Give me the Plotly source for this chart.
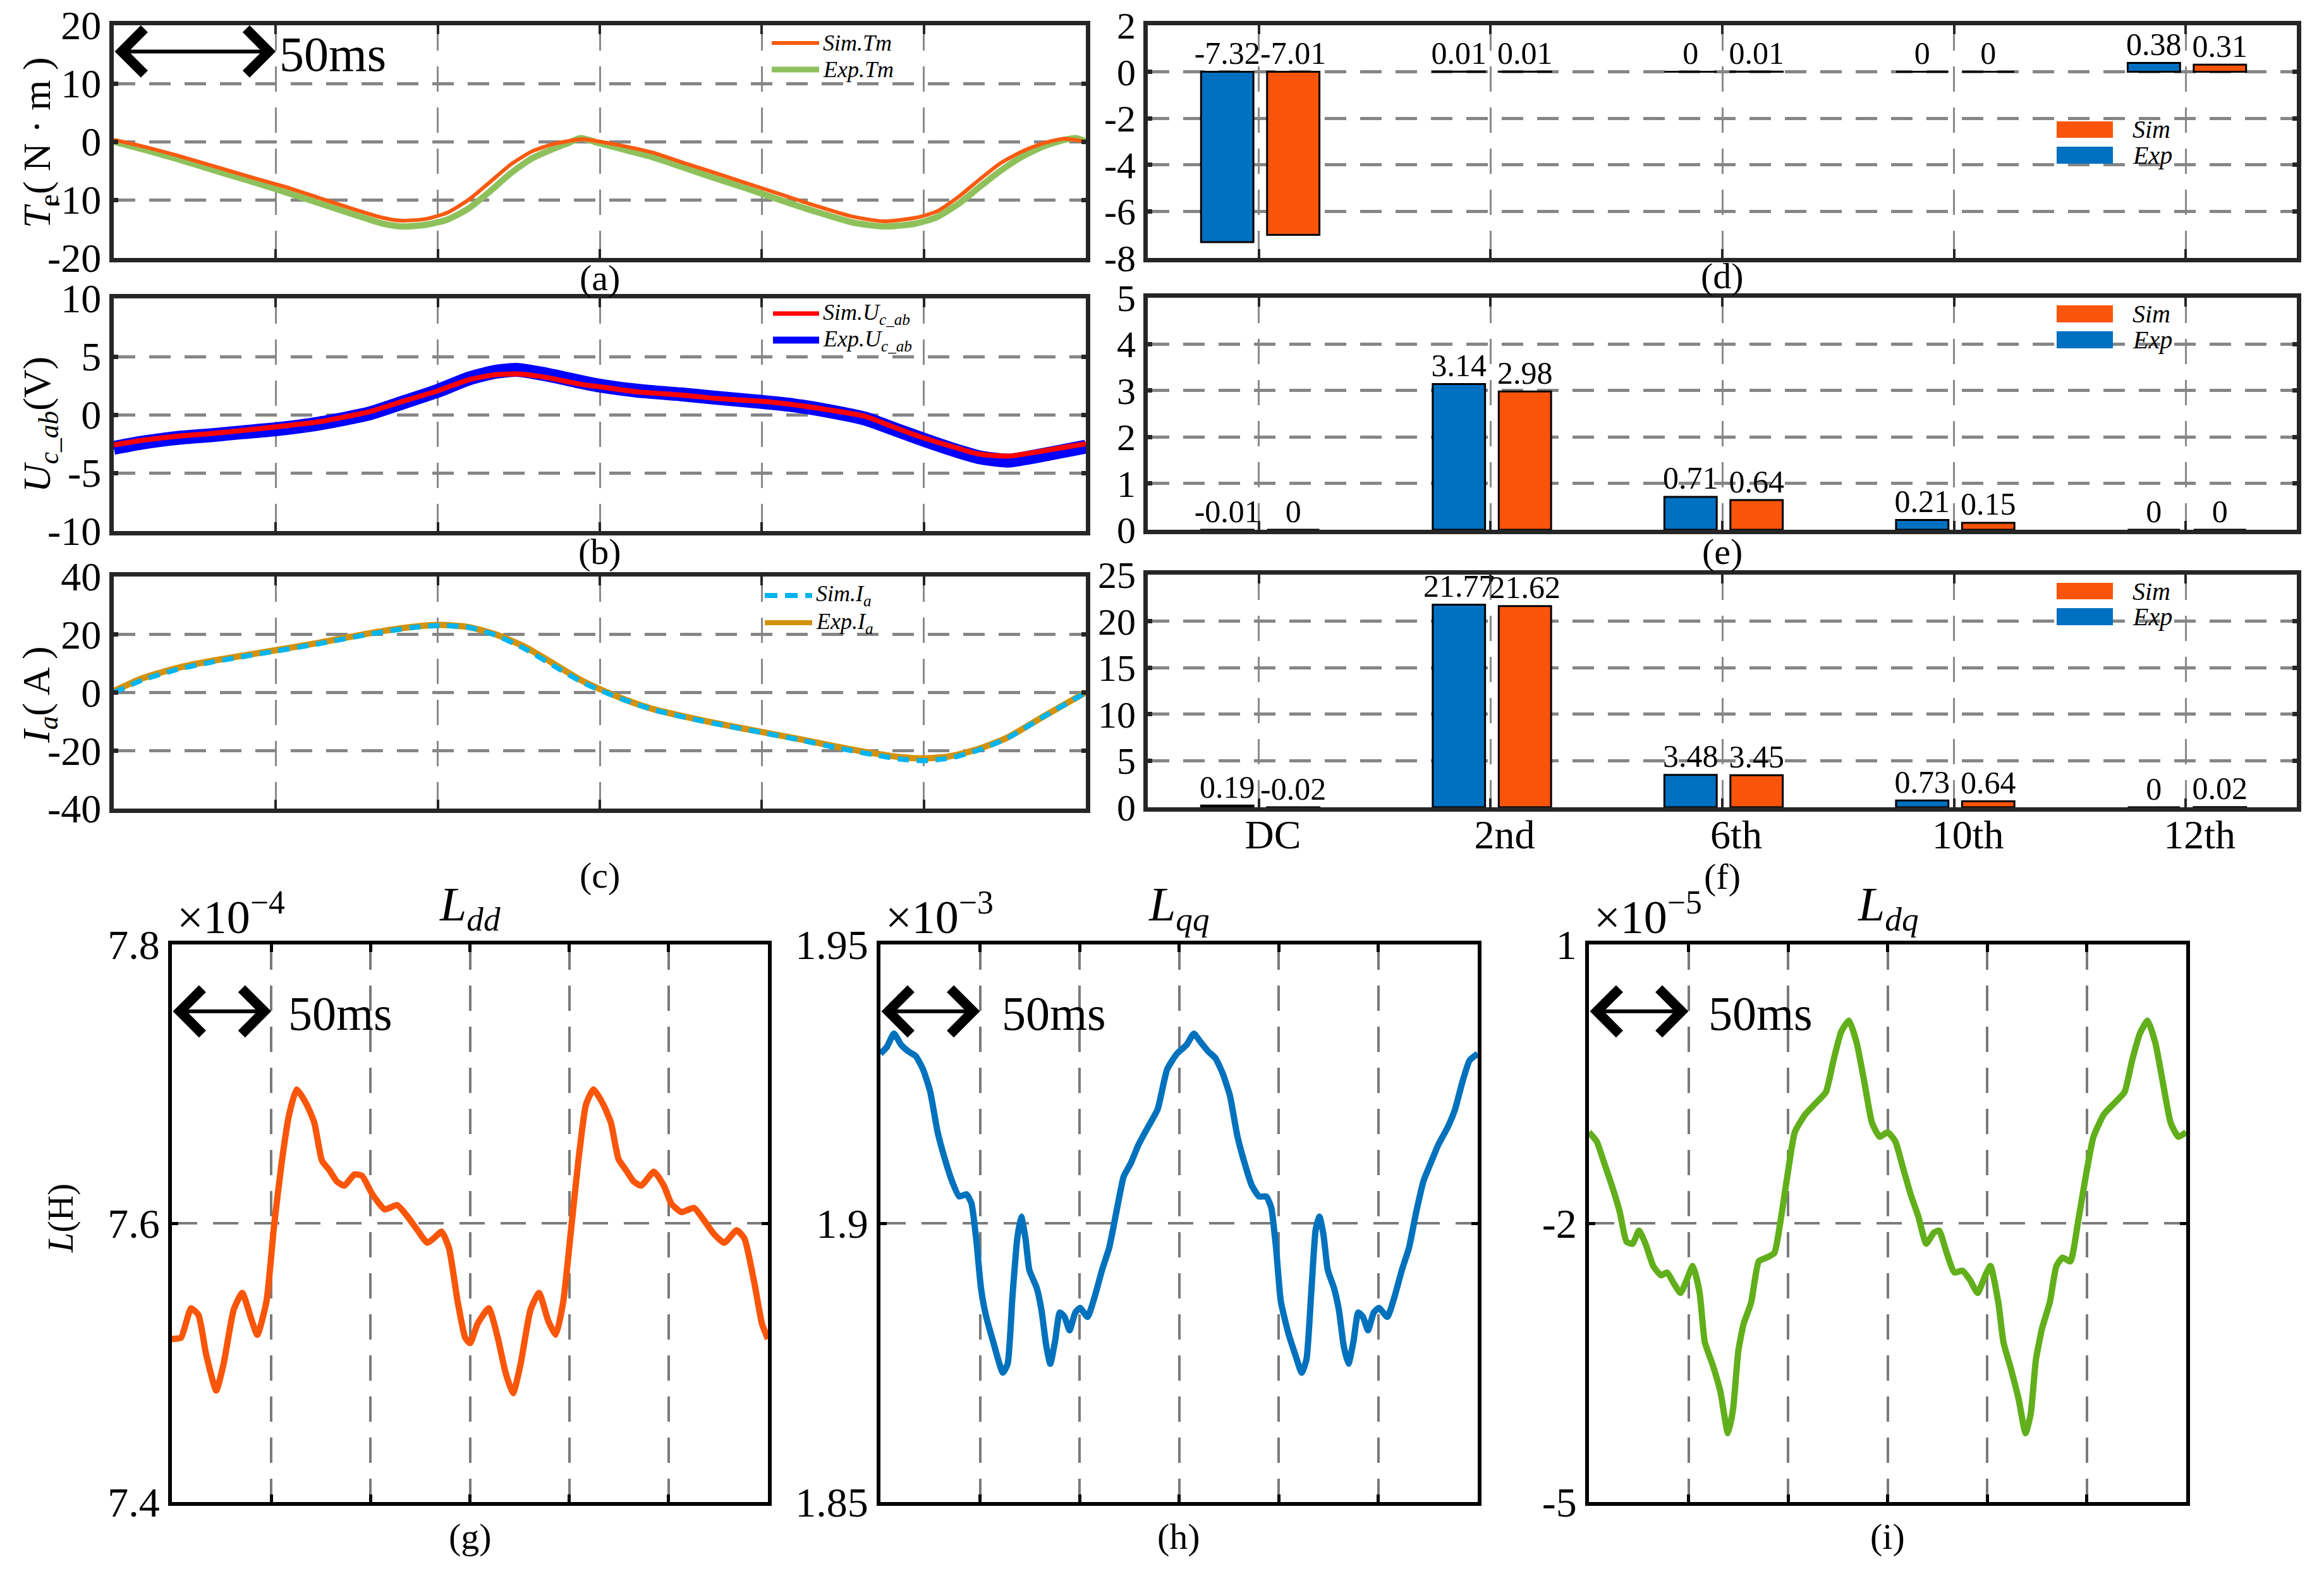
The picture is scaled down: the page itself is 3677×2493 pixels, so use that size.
import plotly.graph_objects as go

W, H = 3677, 2493
SERIF = "Liberation Serif"

# ------------------------------------------------------------------ data
# (a) electromagnetic torque, time in ms
ta_sim = [0, 8.8, 19.7, 30.7, 41.6, 52.5, 63.5, 74.5, 83, 88.7, 96.4, 103, 109.5, 116, 122.6, 129, 135.8, 144.5, 150,
          157.7, 166.4, 175, 184, 195, 206, 217, 228, 237.7, 247.4, 254, 260.7, 267, 273.7, 280.3, 287, 293.4, 300]
te_sim = [0.3, -0.8, -2.4, -4.2, -6.0, -7.7, -9.7, -11.7, -13.1, -13.6, -13.3, -12.2, -10.0, -7.0, -3.9, -1.7, -0.4, 0.4, 0.0,
          -0.8, -1.9, -3.5, -5.1, -7.1, -9.1, -11.1, -12.9, -13.7, -13.1, -12.0, -9.5, -6.6, -3.7, -1.7, -0.25, 0.5, 0.0]
ta_exp = [0, 8.8, 19.7, 30.7, 41.6, 52.5, 63.5, 74.5, 83, 88.7, 96.4, 103, 109.5, 116, 122.6, 129, 135.8, 140, 144, 150,
          157.7, 166.4, 175, 184, 195, 206, 217, 228, 237.7, 247.4, 254, 260.7, 267, 273.7, 280.3, 287, 293.4, 297, 300]
te_exp = [0, -1.3, -3.0, -4.9, -6.7, -8.6, -10.6, -12.6, -14.1, -14.6, -14.3, -13.4, -11.5, -8.6, -5.4, -2.9, -1.2, -0.3, 0.6, -0.3,
          -1.4, -2.7, -4.3, -6.0, -8.0, -10.1, -12.1, -13.9, -14.6, -14.1, -13.0, -10.7, -7.9, -5.0, -2.6, -0.8, 0.3, 0.6, 0.0]

# (b) capacitor voltage
tb = [0, 8.8, 19.7, 30.7, 40, 50, 63.5, 78.8, 89.8, 100, 109.5, 118, 124.8, 133.6, 144.5, 150, 162, 175, 186, 200,
      210, 221, 232, 241, 250, 260.7, 267, 276, 285, 293.5, 300]
ub_sim = [-2.6, -2.2, -1.85, -1.6, -1.35, -1.05, -0.6, 0.25, 1.2, 2.05, 3.0, 3.45, 3.5, 3.2, 2.6, 2.4, 1.95, 1.7, 1.4, 1.15,
          0.85, 0.4, -0.15, -1.1, -2.0, -2.9, -3.38, -3.56, -3.2, -2.8, -2.5]
ub_exp = [-2.85, -2.4, -2.0, -1.75, -1.5, -1.25, -0.75, 0.1, 1.1, 2.05, 3.1, 3.7, 3.85, 3.45, 2.8, 2.5, 2.05, 1.75, 1.45, 1.1,
          0.8, 0.3, -0.35, -1.25, -2.15, -3.15, -3.65, -3.95, -3.55, -3.1, -2.75]

# (c) phase current
tc = [0, 8.8, 19.7, 30.7, 50, 63.5, 78.8, 92, 100.7, 109.5, 118, 127, 135.8, 144.5, 150, 157.7, 166.4, 177.4, 188.3, 200,
      212.4, 223.4, 234.3, 243, 250, 258, 267, 276, 287, 300]
ia_exp = [0.5, 4.9, 8.5, 11.0, 14.6, 17.2, 20.4, 22.6, 23.3, 22.6, 20.0, 15.7, 9.9, 4.1, 1.2, -2.4, -5.7, -8.6, -11.1, -13.6,
          -16.2, -18.7, -20.9, -22.3, -22.7, -22.0, -19.4, -15.4, -8.2, 0.1]
ia_sim = [0, 4.3, 8.0, 10.6, 14.3, 16.9, 20.1, 22.4, 23.1, 22.5, 19.7, 15.0, 9.2, 3.6, 0.8, -2.6, -5.9, -8.8, -11.3, -13.8,
          -16.5, -19.1, -21.4, -23.0, -23.5, -22.6, -19.8, -15.6, -8.3, 0.0]

# (d)(e)(f) harmonic spectra
harmonics = ["DC", "2nd", "6th", "10th", "12th"]
d_exp = [-7.32, 0.01, 0, 0, 0.38]
d_sim = [-7.01, 0.01, 0.01, 0, 0.31]
e_exp = [-0.01, 3.14, 0.71, 0.21, 0]
e_sim = [0, 2.98, 0.64, 0.15, 0]
f_exp = [0.19, 21.77, 3.48, 0.73, 0]
f_sim = [-0.02, 21.62, 3.45, 0.64, 0.02]

# (g) Ldd in 1e-4 H
tg = [0, 4.6, 9.6, 13.4, 17.2, 22.3, 26, 31.1, 35.4, 40, 43, 47.6, 51.4, 55.2, 59, 62.8, 67.9, 71.7, 75.5, 79.3,
      83, 86.8, 91.9, 95.7, 100.8, 107.1, 113.4, 118.5, 123.6, 128.6, 132.4, 135.7, 139.5, 143.8, 147.6, 150.1, 153.9, 159.5, 164, 167.9,
      171.7, 175.5, 180.5, 184.8, 189.4, 193.2, 197, 200.8, 204.6, 208.4, 212.2, 217.2, 221, 224.8, 228.6, 232.4, 236.2, 242.6, 247.6, 251.4,
      256.5, 262.8, 267.9, 273, 278, 284.3, 288.2, 293.2, 297, 300]
Ldd = [7.517, 7.518, 7.539, 7.534, 7.506, 7.48, 7.499, 7.538, 7.55, 7.531, 7.52, 7.544, 7.598, 7.643, 7.678, 7.696, 7.685, 7.672, 7.645, 7.638,
       7.630, 7.627, 7.635, 7.634, 7.621, 7.610, 7.613, 7.605, 7.595, 7.586, 7.590, 7.594, 7.582, 7.544, 7.518, 7.514, 7.528, 7.539, 7.518, 7.493,
       7.478, 7.499, 7.538, 7.55, 7.530, 7.52, 7.544, 7.594, 7.645, 7.685, 7.696, 7.685, 7.672, 7.646, 7.638, 7.630, 7.627, 7.637, 7.627, 7.614,
       7.608, 7.611, 7.602, 7.592, 7.586, 7.595, 7.589, 7.557, 7.528, 7.517]

# (h) Lqq in 1e-3 H
th = [0, 3.2, 6.8, 10.4, 14.1, 17.7, 21.4, 25, 28.7, 32.3, 35.9, 39.6, 43.2, 45.7, 48.1, 50.5, 52.9, 56.6, 61.5, 63.9,
      66.3, 68.7, 70.7, 72.9, 74.8, 78.5, 80.9, 83.3, 85.3, 87.7, 90.1, 92.5, 95, 97.9, 100.3, 104, 107.6, 111.3, 114.9, 118.5,
      122.2, 125.8, 129.5, 134.3, 139.2, 144, 148.9, 153.8, 157.4, 161, 164.7, 168.3, 172, 175.6, 179.3, 182.9, 186.5, 190.2, 193.8, 196.3,
      198.7, 201.1, 204.8, 208.4, 211.6, 214, 216.4, 218.6, 220.5, 222.5, 224.7, 227.8, 230.3, 232.7, 235.1, 237.6, 240, 242.4, 244.9, 247.8,
      250.4, 254.6, 258.2, 261.9, 265.5, 269.1, 272.8, 276.4, 280.1, 284.9, 288.6, 292.2, 295.9, 300]
Lqq = [1.9304, 1.9316, 1.934, 1.932, 1.9308, 1.930, 1.9276, 1.9236, 1.9164, 1.9116, 1.9076, 1.9048, 1.9052, 1.9036, 1.8972, 1.8884, 1.8836, 1.8788, 1.8732, 1.8748,
       1.8868, 1.8972, 1.9012, 1.8972, 1.8916, 1.8884, 1.8844, 1.878, 1.8748, 1.8788, 1.884, 1.8832, 1.8808, 1.884, 1.8848, 1.8832, 1.8868, 1.8916, 1.8956, 1.902,
       1.9084, 1.9108, 1.914, 1.9172, 1.9204, 1.9276, 1.9304, 1.932, 1.934, 1.9324, 1.9308, 1.9296, 1.9268, 1.9228, 1.9156, 1.9108, 1.9068, 1.9048, 1.9048, 1.9028,
       1.8956, 1.886, 1.8804, 1.8764, 1.8732, 1.8756, 1.8876, 1.8988, 1.9012, 1.898, 1.8916, 1.8884, 1.8844, 1.878, 1.8748, 1.8788, 1.884, 1.8832, 1.8808, 1.884,
       1.8848, 1.8832, 1.8868, 1.8916, 1.8956, 1.902, 1.9076, 1.9108, 1.914, 1.9172, 1.9204, 1.9252, 1.9292, 1.9304]

# (i) Ldq in 1e-5 H
ti = [0, 3.9, 7.8, 11.6, 15.5, 18.9, 22, 25.1, 28.4, 32.3, 36.2, 39.3, 42.7, 46, 49.1, 52.2, 55.6, 58.2, 62.1, 66,
      69.8, 72.4, 75, 77.6, 81.5, 85.3, 89.2, 93.1, 96.2, 99.6, 103.4, 108.6, 113.8, 119, 122.8, 126.7, 130.6, 134.5, 138.4, 142.2,
      146.1, 150, 153.9, 157.7, 161.6, 165.5, 169.4, 173.3, 175.9, 179.7, 183.6, 187.5, 191.4, 195.2, 199.1, 201.7, 205.6, 208.2, 212, 215.9,
      219.3, 221.9, 224.5, 227.6, 231.5, 234.8, 237.9, 241.8, 245.7, 249.5, 253.4, 258.6, 263.8, 269, 272.8, 276.7, 280.6, 284.5, 288.3, 292.2,
      296.1, 300]
Ldq = [-1.02, -1.12, -1.36, -1.60, -1.88, -2.20, -2.22, -2.08, -2.22, -2.46, -2.56, -2.53, -2.65, -2.75, -2.61, -2.46, -2.75, -3.28, -3.52, -3.81,
       -4.26, -4.0, -3.38, -3.09, -2.85, -2.41, -2.37, -2.32, -1.98, -1.50, -1.02, -0.83, -0.71, -0.59, -0.25, 0.06, 0.18, -0.06, -0.49, -0.92,
       -1.07, -1.02, -1.12, -1.40, -1.69, -1.93, -2.22, -2.10, -2.08, -2.32, -2.53, -2.51, -2.61, -2.75, -2.56, -2.46, -2.85, -3.28, -3.57, -3.90,
       -4.26, -4.05, -3.47, -3.13, -2.85, -2.46, -2.37, -2.41, -1.98, -1.50, -1.07, -0.83, -0.71, -0.59, -0.25, 0.04, 0.18, -0.06, -0.49, -0.92,
       -1.07, -1.02]

# tick labels
time_ticks = [0, 50, 100, 150, 200, 250, 300]
ya_ticks = [-20, -10, 0, 10, 20]
yb_ticks = [-10, -5, 0, 5, 10]
yc_ticks = [-40, -20, 0, 20, 40]
yd_ticks = [-8, -6, -4, -2, 0, 2]
ye_ticks = [0, 1, 2, 3, 4, 5]
yf_ticks = [0, 5, 10, 15, 20, 25]
yg_ticks = [7.4, 7.6, 7.8]
yh_ticks = [1.85, 1.9, 1.95]
yi_ticks = [-5, -2, 1]

# ------------------------------------------------------------------ styling helpers
C_EXP = "#0070C0"
C_SIM = "#F9540A"
FRAME = "#262626"


def fx(p):
    return p / W


def fy(p):
    return 1 - p / H


def lab(v):
    return f"{v:g}"


BOX = {  # left, right, top, bottom (px)
    'a': (180, 1718, 40, 408), 'b': (180, 1718, 472, 840), 'c': (180, 1718, 912, 1279),
    'd': (1816, 3634, 40, 408), 'e': (1816, 3634, 471, 838), 'f': (1816, 3634, 909, 1277),
    'g': (272, 1215, 1494, 2376), 'h': (1393, 2338, 1494, 2376), 'i': (2514, 3459, 1494, 2376),
}
ORDER = ['a', 'b', 'c', 'd', 'e', 'f', 'g', 'h', 'i']


def ids(k):
    n = ORDER.index(k) + 1
    s = '' if n == 1 else str(n)
    return 'x' + s, 'y' + s, 'xaxis' + s, 'yaxis' + s


layout = dict(width=W, height=H, margin=dict(l=0, r=0, t=0, b=0, pad=0, autoexpand=False),
              paper_bgcolor="white", plot_bgcolor="white", showlegend=False, barmode="overlay",
              font=dict(family=SERIF, color="black"))

yinfo = {'a': ([-20, 20], ya_ticks), 'b': ([-10, 10], yb_ticks), 'c': ([-40, 40], yc_ticks),
         'd': ([-8, 2], yd_ticks), 'e': ([0, 5], ye_ticks), 'f': ([0, 25], yf_ticks),
         'g': ([7.4, 7.8], yg_ticks), 'h': ([1.85, 1.95], yh_ticks), 'i': ([-5, 1], yi_ticks)}

for k in ORDER:
    l, r, t, b = BOX[k]
    xr, yr, xk, yk = ids(k)
    top = k in 'abcdef'
    fc = FRAME if top else "black"
    xa = dict(domain=[fx(l), fx(r)], anchor=yr, automargin=False, showline=True, linewidth=7 if top else 6,
              linecolor=fc, mirror="ticks", ticks="inside", ticklen=14 if top else 12,
              tickwidth=4 if top else 5, tickcolor=fc,
              showgrid=True, gridcolor="#8a8a8a" if top else "#7a7a7a", gridwidth=2.5 if top else 4,
              griddash="40px,25px", zeroline=False, showticklabels=False)
    if k in 'def':
        pos = list(range(1, len(harmonics) + 1))
        xa.update(range=[0.52, 5.48], tickvals=pos, ticktext=harmonics,
                  tickfont=dict(family=SERIF, size=64), showticklabels=(k == 'f'),
                  ticklabelstandoff=-19, ticklabelshift=22)
    else:
        xa.update(range=[0, 300], tickvals=time_ticks)
    rng, tv = yinfo[k]
    ysize = 64 if k in 'abc' else (60 if k in 'def' else 66)
    ya = dict(domain=[fy(b), fy(t)], anchor=xr, automargin=False, range=rng, tickvals=tv,
              ticktext=[lab(v) for v in tv],
              showline=True, linewidth=7 if top else 6, linecolor=fc, mirror="ticks", ticks="inside",
              ticklen=7 if top else 10, tickwidth=7 if top else 5, tickcolor=fc,
              showgrid=True, gridcolor="#868686" if top else "#7a7a7a", gridwidth=5 if top else 4,
              griddash="34px,22px" if top else "40px,25px", zeroline=False,
              tickfont=dict(family=SERIF, size=ysize, color="black"))
    layout[xk] = xa
    layout[yk] = ya

fig = go.Figure()


def line(k, x, y, color, width, dash=None, smooth=0.6):
    xr, yr, _, _ = ids(k)
    fig.add_trace(go.Scatter(x=x, y=y, mode="lines", xaxis=xr, yaxis=yr,
                             line=dict(color=color, width=width, dash=dash, shape="spline", smoothing=smooth)))


# (a)
line('a', ta_exp, te_exp, "#8EC15C", 10)
line('a', ta_sim, te_sim, "#F95A10", 6)
# (b)
line('b', tb, ub_exp, "#0000FF", 22)
line('b', tb, ub_sim, "#FF0000", 8)
# (c)
line('c', tc, ia_exp, "#D4920A", 10)
line('c', tc, ia_sim, "#00B4F0", 8, dash="18px,12px")
# (g)(h)(i)
line('g', tg, Ldd, "#FA560A", 10, smooth=0.5)
line('h', th, Lqq, "#0072BD", 10, smooth=0.5)
line('i', ti, Ldq, "#61AF1B", 10, smooth=0.5)

# bars
BW = 0.226
OFF_EXP, OFF_SIM = -0.25, 0.035
for k, ex, si in (('d', d_exp, d_sim), ('e', e_exp, e_sim), ('f', f_exp, f_sim)):
    xr, yr, _, _ = ids(k)
    pos = list(range(1, len(harmonics) + 1))
    for vals, off, col in ((ex, OFF_EXP, C_EXP), (si, OFF_SIM, C_SIM)):
        fig.add_trace(go.Bar(x=pos, y=vals, width=BW, offset=off, xaxis=xr, yaxis=yr,
                             marker=dict(color=col, line=dict(color="black", width=3))))
        fig.add_trace(go.Scatter(x=[p + off + BW / 2 for p in pos], y=[max(v, 0) for v in vals],
                                 mode="text", text=[lab(v) for v in vals], textposition="top center",
                                 textfont=dict(family=SERIF, size=50, color="black"),
                                 xaxis=xr, yaxis=yr, cliponaxis=False))

ann = []
shapes = []


def text(x, y, s, size, xanchor="center", yanchor="middle", angle=0):
    ann.append(dict(x=fx(x), y=fy(y), xref="paper", yref="paper", text=s, showarrow=False,
                    xanchor=xanchor, yanchor=yanchor, textangle=angle,
                    font=dict(family=SERIF, size=size, color="black")))


# captions
for k, y in (('a', 440), ('b', 872), ('c', 1384), ('d', 436), ('e', 872), ('f', 1386),
             ('g', 2430), ('h', 2430), ('i', 2430)):
    l, r, t, b = BOX[k]
    text((l + r) / 2, y, f"({k})", 58)

# y titles
text(62, 226, "<i>T</i><sub>e</sub>( N · m )", 62, angle=-90)
text(62, 672, "<i>U</i><sub><i>c_ab</i></sub>(V)", 62, angle=-90)
text(62, 1099, "<i>I</i><sub><i>a</i></sub>( A )", 62, angle=-90)
text(96, 1927, "<i>L</i>(H)", 56, angle=-90)

# titles & exponents of lower panels
for k, ttl, ex in (('g', "dd", "−4"), ('h', "qq", "−3"), ('i', "dq", "−5")):
    l, r, t, b = BOX[k]
    text((l + r) / 2, 1436, f"<i>L</i><sub><i>{ttl}</i></sub>", 76)
    text(l + 6, 1446, f"×10<sup>{ex}</sup>", 74, xanchor="left")

# 50 ms arrows
for k, yv in (('a', 15.5), ('g', 7.752), ('h', 1.938), ('i', 0.28)):
    xr, yr, _, _ = ids(k)
    ann.append(dict(x=50, y=yv, ax=0, ay=yv, xref=xr, yref=yr, axref=xr, ayref=yr, text="",
                    showarrow=True, arrowhead=4, startarrowhead=4, arrowside="end+start",
                    arrowsize=2.3, startarrowsize=2.3,
                    arrowwidth=6, arrowcolor="black", standoff=0, startstandoff=0))
text(440, 86, "50ms", 78, xanchor="left")
text(454, 1603, "50ms", 76, xanchor="left")
text(1583, 1603, "50ms", 76, xanchor="left")
text(2701, 1603, "50ms", 76, xanchor="left")


# manual legends (line panels)
def leg_line(x0, x1, y, color, width, label, dash=None):
    shapes.append(dict(type="line", xref="paper", yref="paper", x0=fx(x0), x1=fx(x1), y0=fy(y), y1=fy(y),
                       line=dict(color=color, width=width, dash=dash)))
    text(x1 + 4, y, f"<i>{label}</i>", 36, xanchor="left")


leg_line(1221, 1296, 68, "#F95A10", 6, "Sim.Tm")
leg_line(1221, 1296, 110, "#8EC15C", 9, "Exp.Tm")
leg_line(1223, 1296, 496, "#FF0000", 7, "Sim.U<sub>c_ab</sub>")
leg_line(1223, 1296, 538, "#0000FF", 11, "Exp.U<sub>c_ab</sub>")
leg_line(1210, 1285, 942, "#00B4F0", 8, "Sim.I<sub>a</sub>", dash="20px,12px")
leg_line(1210, 1285, 985, "#D4920A", 8, "Exp.I<sub>a</sub>")


def leg_box(y0, y1, color, label):
    shapes.append(dict(type="rect", xref="paper", yref="paper", x0=fx(3254), x1=fx(3343), y0=fy(y1), y1=fy(y0),
                       fillcolor=color, line=dict(width=0)))
    text(3372, (y0 + y1) / 2, f"<i>{label}</i>", 40, xanchor="left")


for ys, ye in (((192, 218), (232, 259)), ((483, 510), (524, 551)), ((922, 948), (962, 989))):
    leg_box(*ys, C_SIM, "Sim")
    leg_box(*ye, C_EXP, "Exp")

layout["annotations"] = ann
layout["shapes"] = shapes
fig.update_layout(**layout)
fig.write_html("out.html")
